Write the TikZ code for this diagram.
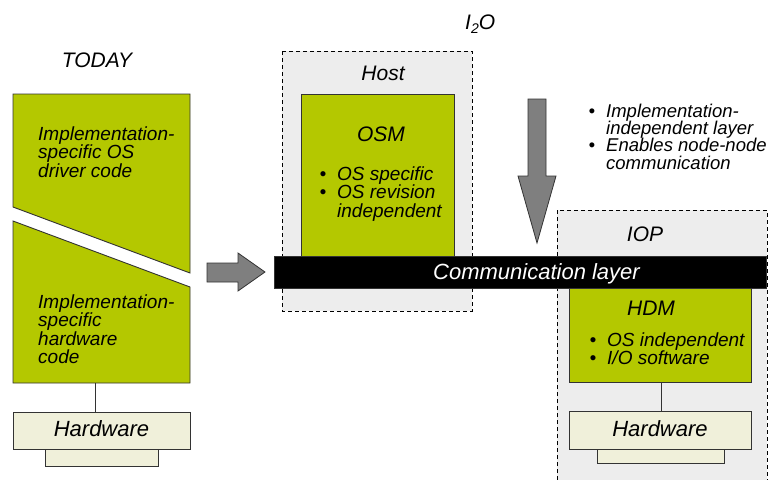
\documentclass[tikz,border=0pt]{standalone}
\usepackage{fontspec}
\setmainfont{Liberation Sans}
\definecolor{leaf}{HTML}{B4C800}
\definecolor{paper}{HTML}{F0F0DA}
\definecolor{panel}{HTML}{EDEDED}
\definecolor{arrowgray}{HTML}{7F7F7F}
\definecolor{edge}{HTML}{333333}
\newcommand\bul{\makebox[0pt][r]{\textbullet\hspace{11pt}}}
\tikzset{
  body/.style={font=\itshape\fontsize{19}{18.4}\selectfont, align=left, inner sep=0pt, anchor=north west},
  head/.style={font=\itshape\fontsize{21}{22}\selectfont, inner sep=0pt, anchor=base},
  greenbox/.style={fill=leaf, draw=edge, line width=0.9pt},
  hwbox/.style={draw=edge, fill=paper, line width=0.9pt, inner sep=0pt, font=\itshape\fontsize{22}{24}\selectfont, text depth=3pt},
  panelbox/.style={fill=panel, draw=black, line width=0.8pt, dash pattern=on 4pt off 3pt},
  fatarrow/.style={fill=arrowgray, draw=edge, line width=0.8pt, line join=miter},
  wire/.style={draw=edge, line width=0.9pt}
}
\begin{document}
\begin{tikzpicture}[x=1pt, y=-1pt]
\useasboundingbox (0,0) rectangle (776,479);

% ---------- left column: today ----------
\node[head] (today) at (97,67) {TODAY};
\draw[greenbox] (13,94) -- (190,94) -- (190,273) -- (13,207) -- cycle;
\draw[greenbox] (13,221) -- (190,287) -- (190,383) -- (13,383) -- cycle;
\node[body] (osdrv) at (38,126.4) {Implementation-\\specific OS\\driver code};
\node[body] (hwcode) at (38,294.4) {Implementation-\\specific\\hardware\\code};
\coordinate (lowbot) at (95,383);
\draw[wire, fill=paper] (45,449) rectangle (158,466);
\node[hwbox, minimum width=177pt, minimum height=37pt] (hwL) at (101.5,430.5) {Hardware};
\draw[wire] (lowbot) -- (lowbot |- hwL.north);

% ---------- arrow to the I2O side ----------
\draw[fatarrow] (207,263) -- (238,263) -- (238,253) -- (265,272) -- (238,291) -- (238,282) -- (207,282) -- cycle;

% ---------- I2O heading ----------
\node[head, anchor=base west] (ito) at (465,29) {I\raisebox{-4pt}{\fontsize{14}{14}\selectfont 2}O};

% ---------- host ----------
\draw[panelbox] (282,51) rectangle (472,311);
\node[head] (host) at (383,80) {Host};
\node[greenbox, minimum width=153pt, minimum height=162pt, inner sep=0pt] (osm) at (377.5,175) {};
\node[head] (osmt) at (381,141) {OSM};
\node[body] (osml) at (337,166.4) {\bul OS specific\\\bul OS revision\\independent};

% ---------- IOP ----------
\fill[panel] (557,210) rectangle (767,480);
\draw[black, line width=0.8pt, dash pattern=on 4pt off 3pt] (557,480) -- (557,210) -- (767,210) -- (767,480);
\node[head] (iop) at (645,241) {IOP};
\node[greenbox, minimum width=182pt, minimum height=94pt, inner sep=0pt] (hdm) at (660,335) {};
\node[head] (hdmt) at (651,315) {HDM};
\node[body] (hdml) at (607,332.4) {\bul OS independent\\\bul I/O software};
\draw[wire, fill=paper] (597,449) rectangle (724,463);
\node[hwbox, minimum width=182pt, minimum height=38pt] (hwR) at (660,430) {Hardware};
\draw[wire] (hdm.south -| 661,0) -- (hwR.north -| 661,0);

% ---------- communication layer ----------
\node[fill=black, minimum width=492pt, minimum height=32pt, inner sep=0pt,
      font=\itshape\fontsize{22}{24}\selectfont, text=white, draw=edge, line width=0.6pt] (comm) at (520,272) {};
\node[font=\itshape\fontsize{22}{24}\selectfont, text=white, inner sep=0pt, anchor=base] (commt) at (536.5,279) {Communication layer};

% ---------- down arrow and its notes ----------
\draw[fatarrow] (528,99) -- (546,99) -- (546,176) -- (556,176) -- (537,243) -- (518,176) -- (528,176) -- cycle;
\node[body, font=\itshape\fontsize{18.5}{17.3}\selectfont] (notes) at (606,103.7) {\bul Implementation-\\independent layer\\\bul Enables node-node\\communication};
\end{tikzpicture}
\end{document}
